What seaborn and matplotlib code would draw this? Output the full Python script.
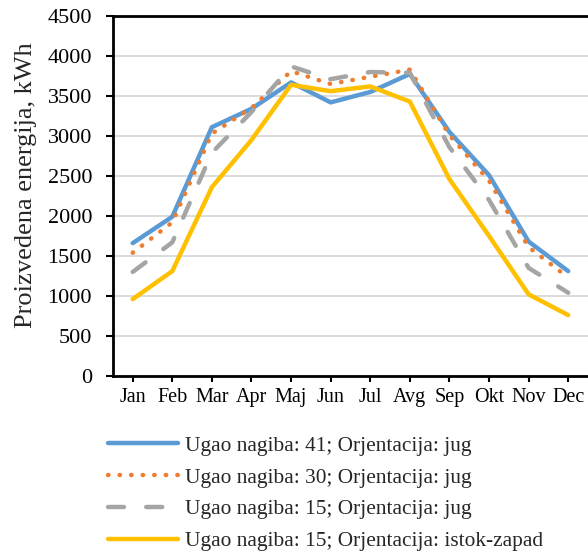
import pandas as pd
import matplotlib.pyplot as plt
import seaborn as sns

months = ["Jan", "Feb", "Mar", "Apr", "Maj", "Jun", "Jul", "Avg", "Sep", "Okt", "Nov", "Dec"]
s41_jug = [1660, 1990, 3110, 3340, 3670, 3420, 3550, 3775, 3050, 2510, 1680, 1310]
s30_jug = [1540, 1920, 3030, 3350, 3810, 3650, 3740, 3830, 3010, 2440, 1610, 1230]
s15_jug = [1300, 1670, 2790, 3300, 3870, 3710, 3800, 3790, 2860, 2200, 1350, 1040]
s15_iz = [960, 1310, 2360, 2950, 3640, 3560, 3620, 3430, 2460, 1750, 1020, 760]

labels = [
    "Ugao nagiba: 41; Orjentacija: jug",
    "Ugao nagiba: 30; Orjentacija: jug",
    "Ugao nagiba: 15; Orjentacija: jug",
    "Ugao nagiba: 15; Orjentacija: istok-zapad",
]
colors = ["#5b9bd5", "#ed7d31", "#a5a5a5", "#ffc000"]
dot = (0.1, 2.5)
dash = (3.6, 5.0)

rows = []
for lab, vals in zip(labels, [s41_jug, s30_jug, s15_jug, s15_iz]):
    for i, v in enumerate(vals):
        rows.append({"idx": i, "value": v, "series": lab})
df = pd.DataFrame(rows)

sns.set_style("white")
plt.rcParams["font.family"] = ["Liberation Serif", "DejaVu Serif"]

fig = plt.figure(figsize=(5.88, 5.52), dpi=100)
ax = fig.add_axes([0.192, 0.319, 0.808, 0.652])

sns.lineplot(data=df, x="idx", y="value", hue="series", style="series",
             palette=dict(zip(labels, colors)),
             dashes={labels[0]: "", labels[1]: dot, labels[2]: dash, labels[3]: ""},
             linewidth=3.2, ax=ax, legend=False)

for line in ax.lines:
    line.set_dash_capstyle("round")
    line.set_solid_capstyle("round")
    line.set_solid_joinstyle("round")

ax.set_xlim(-0.5, 11.5)
ax.set_ylim(0, 4500)
ax.set_yticks(range(0, 4501, 500))
ax.set_xticks(range(12))
ax.set_xticklabels(months)
ax.yaxis.grid(True, color="#d9d9d9", linewidth=1.3)
ax.set_axisbelow(True)
ax.set_xlabel("")
ax.set_ylabel("Proizvedena energija, kWh", fontsize=19)
ax.yaxis.set_label_coords(-0.16, 0.53)
ax.tick_params(axis="both", length=5, width=1.5, direction="out",
               bottom=True, left=True, colors="black")
ax.tick_params(axis="y", labelsize=16, pad=10)
ax.tick_params(axis="x", labelsize=14.5, length=4, pad=5)
for side in ["left", "bottom", "top"]:
    ax.spines[side].set_color("black")
    ax.spines[side].set_linewidth(2)
ax.spines["right"].set_visible(False)

handles = []
for lab, col, ls in zip(labels, colors, ["-", (0, dot), (0, dash), "-"]):
    h, = ax.plot([], [], color=col, linewidth=3.2, linestyle=ls, label=lab,
                 dash_capstyle="round", solid_capstyle="round")
    handles.append(h)
fig.legend(handles=handles, loc="upper left", bbox_to_anchor=(0.151, 0.245),
           frameon=False, fontsize=15.4, handlelength=3.27, handletextpad=0.33,
           labelspacing=0.55)

plt.savefig("out.png", dpi=100)
